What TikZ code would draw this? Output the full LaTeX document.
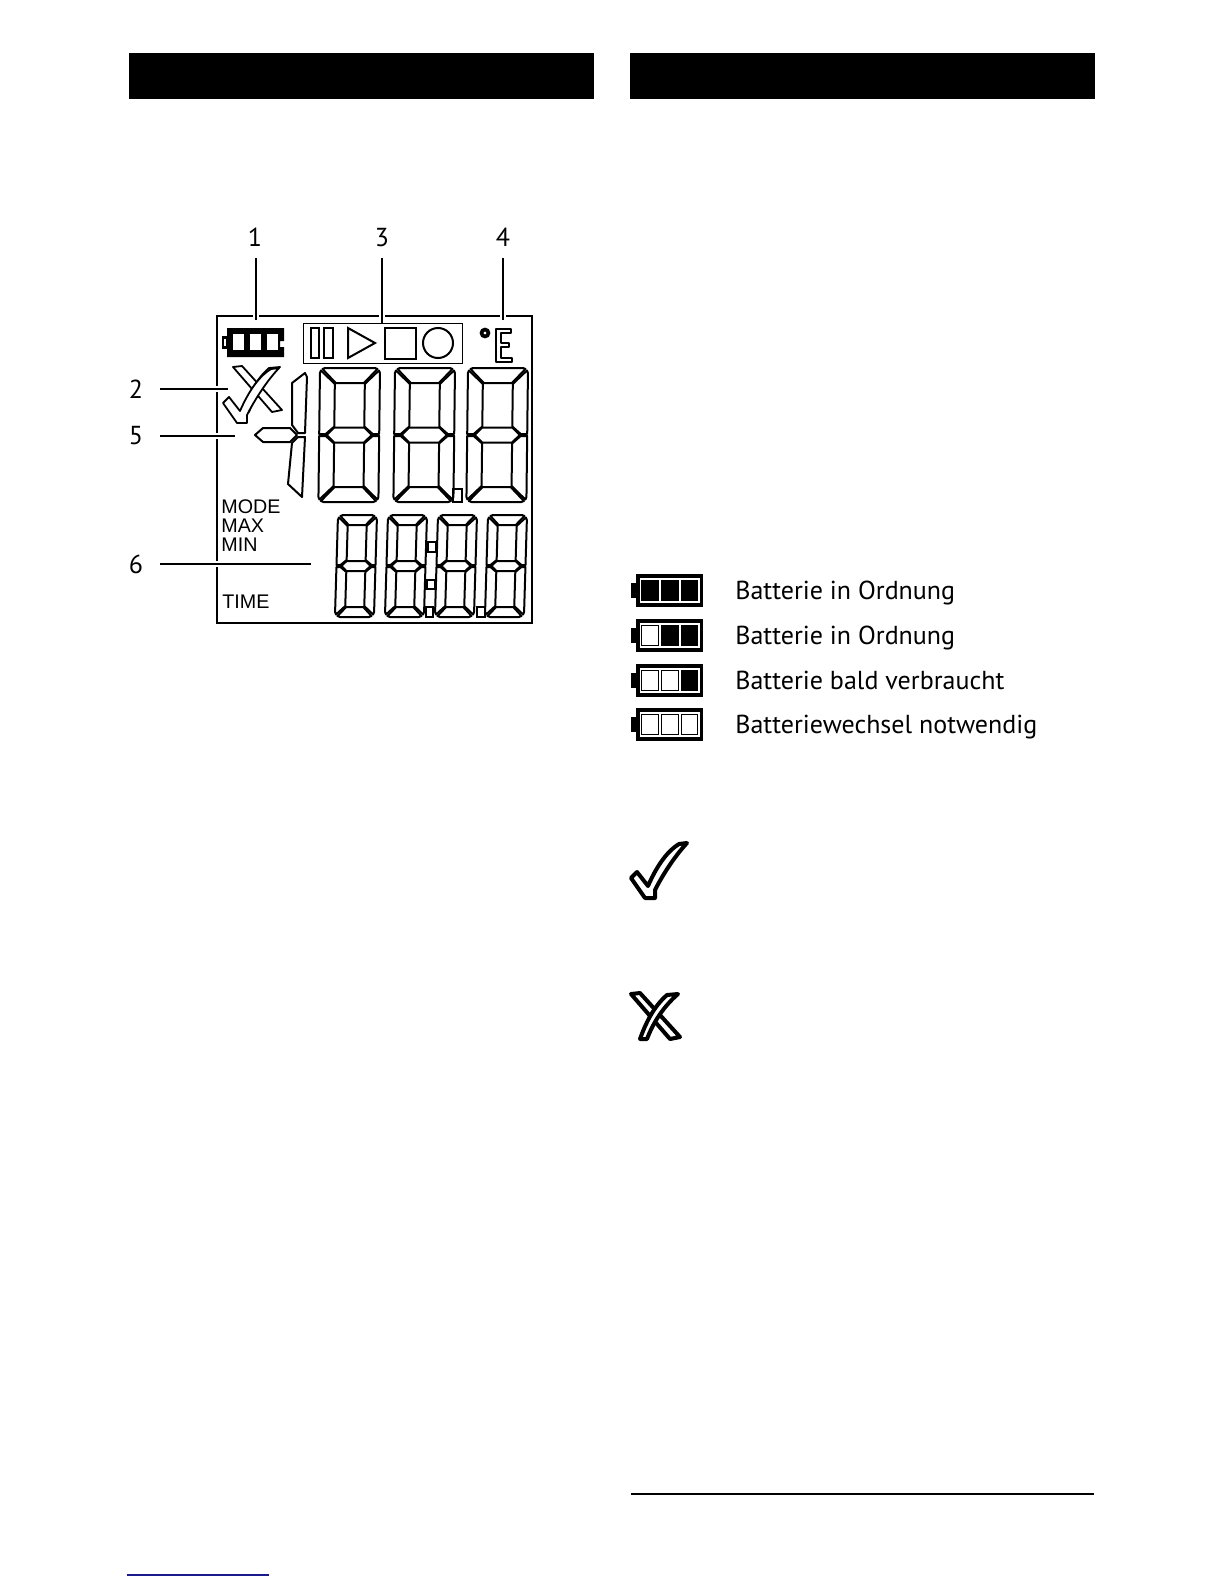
\documentclass[tikz,border=0pt]{standalone}
\usepackage{fontspec}
\setmainfont{PT Sans}
\newfontfamily\lcdfont{Liberation Sans}
\usetikzlibrary{positioning}
\definecolor{linkblue}{HTML}{1A1A8C}

% Siebensegment-Ziffer: x, y (oben links), Breite, Hoehe, Balken, Neigung
\newcommand{\lcddigit}[6]{
  \begin{scope}[shift={(#1,#2)}, xslant=#6]
    \pgfmathsetmacro{\dw}{#3}
    \pgfmathsetmacro{\dh}{#4}
    \pgfmathsetmacro{\dt}{#5}
    \pgfmathsetmacro{\dm}{\dh/2}
    \pgfmathsetmacro{\dq}{\dt/2}
    \draw[seg] (5,0) -- (\dw-5,0) -- (\dw-2.5,1) -- (\dw-\dt-1,\dt) -- (\dt+1,\dt) -- (2.5,1) -- cycle;
    \draw[seg] (5,\dh) -- (\dw-5,\dh) -- (\dw-2.5,\dh-1) -- (\dw-\dt-1,\dh-\dt) -- (\dt+1,\dh-\dt) -- (2.5,\dh-1) -- cycle;
    \draw[seg] (\dq,\dm) -- (\dt,\dm-\dq) -- (\dw-\dt,\dm-\dq) -- (\dw-\dq,\dm) -- (\dw-\dt,\dm+\dq) -- (\dt,\dm+\dq) -- cycle;
    \draw[seg] (0,5) -- (1,2.5) -- (\dt,\dt+1) -- (\dt,\dm-\dq-1) -- (\dq-1,\dm-1) -- (0,\dm-1) -- cycle;
    \draw[seg] (\dw,5) -- (\dw-1,2.5) -- (\dw-\dt,\dt+1) -- (\dw-\dt,\dm-\dq-1) -- (\dw-\dq+1,\dm-1) -- (\dw,\dm-1) -- cycle;
    \draw[seg] (0,\dh-5) -- (1,\dh-2.5) -- (\dt,\dh-\dt-1) -- (\dt,\dm+\dq+1) -- (\dq-1,\dm+1) -- (0,\dm+1) -- cycle;
    \draw[seg] (\dw,\dh-5) -- (\dw-1,\dh-2.5) -- (\dw-\dt,\dh-\dt-1) -- (\dw-\dt,\dm+\dq+1) -- (\dw-\dq+1,\dm+1) -- (\dw,\dm+1) -- cycle;
  \end{scope}
}
% Haken und Kreuz: x, y, Linienbreite
\newcommand{\okmark}[3]{
  \draw[shift={(#1,#2)}, fill=white, line join=round, line width=#3]
    (0,35) -- (6,29) -- (17,43) .. controls (27,20) and (38,7) .. (48,1) -- (56,0)
    .. controls (42,15) and (30,35) .. (24,47) -- (24,55) -- (14,55) -- cycle;
}
\newcommand{\failmark}[3]{
  \begin{scope}[shift={(#1,#2)}, fill=white, line join=round, line width=#3]
    \draw[fill=white] (0,1) -- (9,0) -- (49,44) -- (39,46) -- cycle;
    \draw[fill=white] (47,1) -- (36,2) .. controls (22,14) and (14,32) .. (9,46) -- (16,46)
      .. controls (22,30) and (32,14) .. (47,1) -- cycle;
  \end{scope}
}

\begin{document}
\begin{tikzpicture}[
  x=0.5pt, y=-0.5pt,
  seg/.style={line width=1pt, line join=round, fill=white},
  num/.style={inner sep=0pt, anchor=base, font=\fontsize{13}{15}\selectfont},
  legend/.style={inner sep=0pt, anchor=base west, font=\fontsize{13}{15}\selectfont},
  lcdtext/.style={inner sep=0pt, anchor=base west, font=\lcdfont\fontsize{9.85}{11}\selectfont},
  leader/.style={line width=0.7pt, preaction={draw=white, line width=3pt}},
  lcdline/.style={line width=1pt, line join=miter}
]
  \useasboundingbox (0,0) rectangle (1224,1584);

  % --- Kopfbalken ---
  \fill[black] (129,53) rectangle (594,99);
  \fill[black] (630,53) rectangle (1095,99);

  % --- Anzeige ---
  \draw[lcdline] (217,316) rectangle (532,623);

  % Batterie in der Anzeige
  \fill[black] (227,328) -- (284,328) -- (284,341) -- (280,341) -- (280,347) -- (284,347) -- (284,357) -- (227,357) -- cycle;
  \draw[line width=1.2pt] (223,337.5) rectangle (227,347.5);
  \fill[white] (233,334) rectangle (244,350);
  \fill[white] (250,334) rectangle (261,350);
  \fill[white] (267,334) rectangle (278,350);

  % Statusfeld
  \draw[line width=0.5pt] (303,323) rectangle (462,363);
  \draw[lcdline] (311,328) rectangle (319,358);
  \draw[lcdline] (324,328) rectangle (333,358);
  \draw[lcdline] (348,328) -- (375,343) -- (348,358) -- cycle;
  \draw[lcdline] (385,328) rectangle (416,359);
  \draw[lcdline] (438,343) circle[radius=15];

  % Gradzeichen und Einheit
  \draw[line width=1.8pt] (485,333) circle[radius=3.5];
  \draw[seg, line width=1.2pt] (496,329) -- (511,329) -- (511,333) -- (501,333) -- (501,343) -- (509,343) -- (509,347) -- (501,347) -- (501,358) -- (512,358) -- (512,362) -- (496,362) -- cycle;

  % Haken und Kreuz in der Anzeige
  \failmark{233}{366}{0.9pt}
  \okmark{223}{368}{0.9pt}

  % Vorzeichen und fuehrende Eins
  \draw[seg] (255,435) -- (263,428) -- (290,428) -- (297,435) -- (290,442) -- (263,442) -- cycle;
  \draw[seg] (292,383) -- (305,373) -- (307,377) -- (305,433) -- (298,433) -- (292,425) -- cycle;
  \draw[seg] (292,443) -- (298,437) -- (305,437) -- (302,497) -- (288,484) -- cycle;

  % --- Ziffern ---
  \foreach \xd in {320,395,468} {
    \lcddigit{\xd}{368}{60}{134}{15}{0.012}
  }
  \foreach \xd in {338,388,438,488} {
    \lcddigit{\xd}{515}{39}{102}{10}{0.03}
  }

  % Dezimalpunkte und Doppelpunkt
  \draw[lcdline] (453,489) rectangle (462,502);
  \draw[lcdline] (428,542) rectangle (436,552);
  \draw[lcdline] (427,580) rectangle (435,589);
  \draw[lcdline] (426,607) rectangle (433,617);
  \draw[lcdline] (477,607) rectangle (485,617);

  % Beschriftung der Anzeige
  \node[lcdtext] (mode) at (221,513) {MODE};
  \node[lcdtext] (max)  at (221,532) {MAX};
  \node[lcdtext] (min)  at (221,551) {MIN};
  \node[lcdtext] (time) at (222,608) {TIME};

  % --- Nummern und Hinweislinien ---
  \node[num] (n1) at (255,246) {1};
  \node[num] (n3) at (382,246) {3};
  \node[num] (n4) at (503,246) {4};
  \node[num] (n2) at (136,398) {2};
  \node[num] (n5) at (136,444) {5};
  \node[num] (n6) at (136,573) {6};
  \coordinate (p1) at (256,320);
  \coordinate (p3) at (382,323);
  \coordinate (p4) at (503,320);
  \coordinate (p2) at (228,389);
  \coordinate (p5) at (235,436);
  \coordinate (p6) at (311,564);
  \draw[leader] (256,258) -- (p1);
  \draw[leader] (382,258) -- (p3);
  \draw[leader] (503,258) -- (p4);
  \draw[leader] (160,389) -- (p2);
  \draw[leader] (160,436) -- (p5);
  \draw[leader] (160,564) -- (p6);

  % --- Batterie-Legende ---
  \foreach \yb/\ca/\cb/\cc/\txt [count=\i] in {
    574/black/black/black/Batterie in Ordnung,
    619/white/black/black/Batterie in Ordnung,
    664/white/white/black/Batterie bald verbraucht,
    708/white/white/white/Batteriewechsel notwendig}
  {
    \fill[black] (636,\yb) rectangle (703,\yb+33);
    \fill[black] (631,\yb+9) rectangle (636,\yb+24);
    \fill[white] (640,\yb+4) rectangle (700,\yb+29);
    \draw[fill=\ca, line width=0.5pt] (641.5,\yb+6.5) rectangle (658,\yb+26.5);
    \draw[fill=\cb, line width=0.5pt] (661,\yb+6.5) rectangle (678,\yb+26.5);
    \draw[fill=\cc, line width=0.5pt] (681,\yb+6.5) rectangle (697.5,\yb+26.5);
    \node[legend] (bat\i) at (735,\yb+25) {\txt};
  }

  % --- Haken und Kreuz, gross ---
  \okmark{631}{843}{2pt}
  \failmark{631}{993}{2pt}

  % --- Fusslinien ---
  \draw[line width=0.8pt] (631,1494) -- (1094,1494);
  \draw[linkblue, line width=0.8pt] (127,1575) -- (269,1575);
\end{tikzpicture}
\end{document}
